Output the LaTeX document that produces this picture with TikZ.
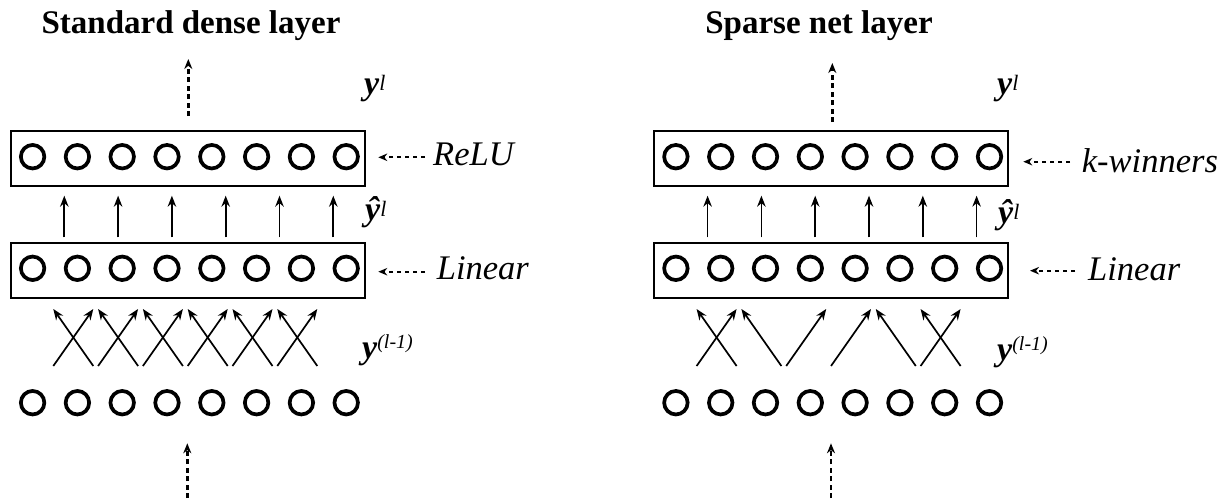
\documentclass[tikz,border=0pt]{standalone}
\usepackage{fontspec}
\setmainfont{Liberation Serif}
\usetikzlibrary{arrows.meta}
\newcommand{\titlefnt}{\fontsize{33}{38}\selectfont\bfseries}
\newcommand{\lblfnt}{\fontsize{34.5}{40}\selectfont\itshape}
\newcommand{\ybf}{\fontsize{34}{38}\selectfont\bfseries\itshape}
\newcommand{\supfnt}{\fontsize{22}{26}\selectfont\mdseries\itshape}
\newcommand{\supfntb}{\fontsize{20}{24}\selectfont\mdseries\itshape}
\begin{document}
\begin{tikzpicture}[x=1pt,y=-1pt,
  neuron/.style={circle, draw, line width=3.7pt, minimum size=23.5pt, inner sep=0pt},
  layerbox/.style={draw, line width=2pt, minimum width=354pt, minimum height=55pt, inner sep=0pt},
  uparr/.style={-{Stealth[length=11pt,width=8.5pt]}, line width=1.7pt},
  dotup/.style={-{Stealth[length=10pt,width=8pt]}, line width=2.4pt, dash pattern=on 5pt off 3.5pt},
  lblarr/.style={-{Stealth[length=9pt,width=7.5pt]}, line width=1.7pt, dash pattern=on 4.5pt off 3.5pt},
  txt/.style={inner sep=0pt, anchor=base west}]
\useasboundingbox (0,0) rectangle (1225,498);

% titles
\node[inner sep=0pt, anchor=base] (t1) at (191,33) {\titlefnt Standard dense layer};
\node[inner sep=0pt, anchor=base] (t2) at (819,33) {\titlefnt Sparse net layer};

\foreach \p/\dx in {L/0, R/643.3} {
  % boxes
  \node[layerbox] (\p act) at (188+\dx,158.5) {};
  \node[layerbox] (\p lin) at (188+\dx,270.5) {};
  % neurons
  \foreach \i in {0,...,7} {
    \node[neuron] (\p a\i) at (32.6+44.8*\i+\dx,156.7) {};
    \node[neuron] (\p l\i) at (32.6+44.8*\i+\dx,268.3) {};
    \node[neuron] (\p x\i) at (32.6+44.8*\i+\dx,402.7) {};
  }
  % vertical arrows between boxes
  \foreach \j in {0,...,5} {
    \coordinate (\p us\j) at (64.3+53.8*\j+\dx,237.3);
    \coordinate (\p ue\j) at (64.3+53.8*\j+\dx,195.7);
    \draw[uparr] (\p us\j) -- (\p ue\j);
  }
  % crossing arrow ends
  \foreach \k in {0,...,5} {
    \coordinate (\p bl\k) at (53.3+44.8*\k+\dx,366);
    \coordinate (\p br\k) at (93.3+44.8*\k+\dx,366);
    \coordinate (\p tl\k) at (53.3+44.8*\k+\dx,309);
    \coordinate (\p tr\k) at (93.3+44.8*\k+\dx,309);
  }
}

% dense connections
\foreach \k in {0,...,5} {
  \draw[uparr] (Lbl\k) -- (Ltr\k);
  \draw[uparr] (Lbr\k) -- (Ltl\k);
}
% sparse connections
\draw[uparr] (Rbl0) -- (Rtr0);
\draw[uparr] (Rbr0) -- (Rtl0);
\draw[uparr] (Rbr1) -- (Rtl1);
\draw[uparr] (Rbl2) -- (Rtr2);
\draw[uparr] (Rbl3) -- (Rtr3);
\draw[uparr] (Rbr4) -- (Rtl4);
\draw[uparr] (Rbl5) -- (Rtr5);
\draw[uparr] (Rbr5) -- (Rtl5);

% dotted in/out arrows
\coordinate (Lo1) at (188.3,116); \coordinate (Lo2) at (188.3,59);
\coordinate (Ro1) at (832.3,122); \coordinate (Ro2) at (832.3,63);
\coordinate (Li1) at (187.3,498); \coordinate (Li2) at (187.3,443.3);
\coordinate (Ri1) at (831,498);   \coordinate (Ri2) at (831,443.3);
\draw[dotup] (Lo1) -- (Lo2);
\draw[dotup] (Ro1) -- (Ro2);
\draw[dotup] (Li1) -- (Li2);
\draw[dotup] (Ri1) -- (Ri2);

% label arrows and texts
\node[txt] (relu) at (433,165) {\lblfnt ReLU};
\node[txt] (linL) at (436.7,279.3) {\lblfnt Linear};
\node[txt] (kwin) at (1081.7,172) {\lblfnt k-winners};
\node[txt] (linR) at (1088,280) {\lblfnt Linear};
\coordinate (a1s) at (425,157.3);  \coordinate (a1e) at (378.3,157.3);
\coordinate (a2s) at (425,271.7);  \coordinate (a2e) at (378.3,271.7);
\coordinate (a3s) at (1070,161.7); \coordinate (a3e) at (1023.3,161.7);
\coordinate (a4s) at (1075,270.7); \coordinate (a4e) at (1030,270.7);
\draw[lblarr] (a1s) -- (a1e);
\draw[lblarr] (a2s) -- (a2e);
\draw[lblarr] (a3s) -- (a3e);
\draw[lblarr] (a4s) -- (a4e);

% math labels
\node[txt] (yL) at (364,94) {\ybf y\raisebox{4pt}{\supfnt l}};
\node[txt] (yR) at (997,94) {\ybf y\raisebox{4pt}{\supfnt l}};
\node[txt] (yhL) at (365,220) {\ybf ŷ\raisebox{4pt}{\supfnt l}};
\node[txt] (yhR) at (998,223) {\ybf ŷ\raisebox{4pt}{\supfnt l}};
\node[txt] (ypL) at (362,358) {\ybf y\raisebox{10pt}{\supfntb (l-1)}};
\node[txt] (ypR) at (997,360) {\ybf y\raisebox{10pt}{\supfntb (l-1)}};
\end{tikzpicture}
\end{document}
